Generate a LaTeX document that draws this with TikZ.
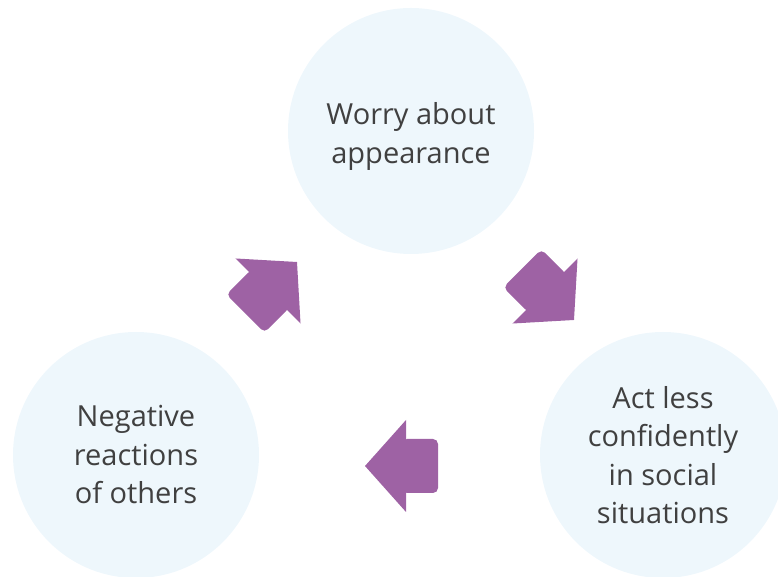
\documentclass[tikz,border=0pt]{standalone}
\usepackage{fontspec}
\setmainfont{Open Sans}
\definecolor{bubble}{HTML}{EEF7FC}
\definecolor{plum}{HTML}{9E62A4}
\definecolor{ink}{HTML}{404040}
\tikzset{bubble/.style={circle, fill=bubble, draw=none,
         minimum size=246pt, inner sep=0pt, align=center,
         text=ink, font=\fontsize{29}{38.5}\selectfont},
         pics/cyclearrow/.style={code={
           \fill[plum, rounded corners=5pt] (-32,-27) rectangle (4,27);
           \fill[plum] (0,-46) -- (41,0) -- (0,46) -- cycle;
         }}}

\begin{document}
\begin{tikzpicture}[x=1pt,y=1pt]
  \useasboundingbox (0,0) rectangle (778,577);
  \begin{scope}
    \clip (0,0) rectangle (778,577);
    \node[bubble] (worry) at (411,446) {\\[-6pt]Worry about\\appearance};
    \node[bubble] (act)   at (663,122) {Act less\\confidently\\in social\\situations};
    \node[bubble] (react) at (136,122) {Negative\\reactions\\of others};
  \end{scope}
  % arrows going round the cycle
  \pic[rotate=-45] at (545,286) {cyclearrow};
  \pic[rotate=180] at (406,111) {cyclearrow};
  \pic[rotate=45]  at (268,286) {cyclearrow};
\end{tikzpicture}
\end{document}
